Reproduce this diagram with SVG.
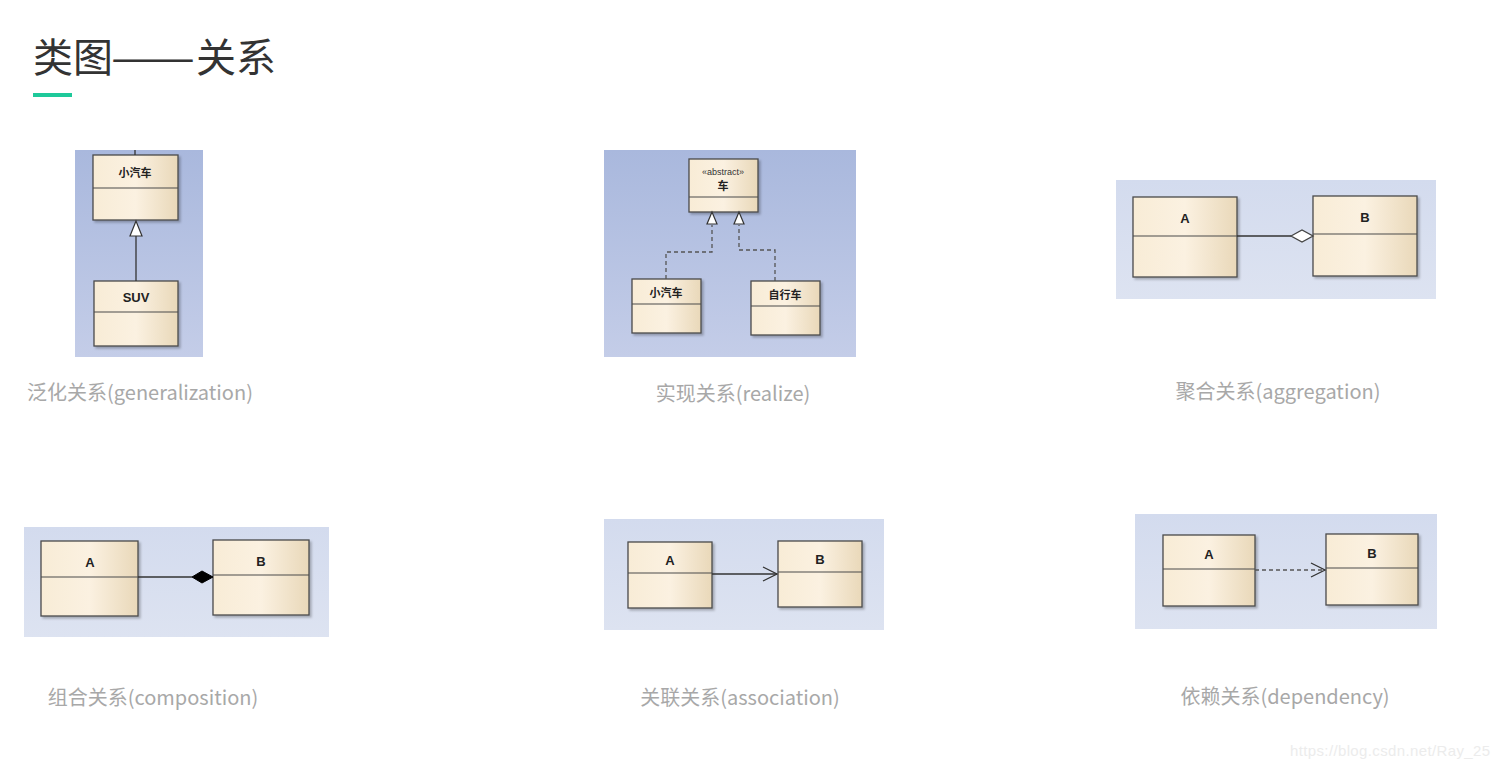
<svg xmlns="http://www.w3.org/2000/svg" width="1500" height="769" viewBox="0 0 1500 769">
<style>
.title{font-family:"Noto Sans CJK SC","Noto Sans",sans-serif;font-size:40px;fill:#333}
.cap{font-family:"Noto Sans CJK SC","Noto Sans",sans-serif;font-size:20px;fill:#a8a8a8;text-anchor:middle}
.box{fill:url(#boxg);stroke:#4a4a4a;stroke-width:1.3;filter:url(#sh)}
.div{stroke:#4a4a4a;stroke-width:1.2}
.lbl{font-family:"Liberation Sans","Noto Sans CJK SC",sans-serif;font-weight:bold;font-size:13px;fill:#222;text-anchor:middle}
.lblc{font-family:"Noto Sans CJK SC",sans-serif;font-weight:bold;font-size:11px;fill:#222;text-anchor:middle}
.ln{stroke:#333;stroke-width:1.3;fill:none}
.dash{stroke:#555;stroke-width:1.3;fill:none;stroke-dasharray:4 3}
.wm{font-family:"Liberation Sans",sans-serif;font-size:15px;fill:#ececec}
</style>
<defs>
<linearGradient id="boxg" x1="0" y1="0" x2="1" y2="0">
<stop offset="0" stop-color="#f8ecd6"/>
<stop offset="0.5" stop-color="#fbf1e1"/>
<stop offset="1" stop-color="#e9d8b9"/>
</linearGradient>
<linearGradient id="bg1" x1="0" y1="0" x2="0" y2="1">
<stop offset="0" stop-color="#a9b8dd"/>
<stop offset="1" stop-color="#c4cde8"/>
</linearGradient>
<linearGradient id="bg2" x1="0" y1="0" x2="0" y2="1">
<stop offset="0" stop-color="#d3dbee"/>
<stop offset="1" stop-color="#dde3f1"/>
</linearGradient>
<filter id="sh" x="-10%" y="-10%" width="130%" height="130%">
<feDropShadow dx="2" dy="2" stdDeviation="1" flood-color="#000" flood-opacity="0.25"/>
</filter>
</defs>

<g id="header">
<text class="title" y="72"><tspan x="33">类图</tspan><tspan x="111" textLength="84" lengthAdjust="spacingAndGlyphs">——</tspan><tspan x="196">关系</tspan></text>
<rect x="33" y="93" width="39" height="4" fill="#1ec99a"/>
</g>

<!-- panel backgrounds -->
<g id="panels">
<rect x="75" y="150" width="128" height="207" fill="url(#bg1)"/>
<rect x="604" y="150" width="252" height="207" fill="url(#bg1)"/>
<rect x="1116" y="180" width="320" height="119" fill="url(#bg2)"/>
<rect x="24" y="527" width="305" height="110" fill="url(#bg2)"/>
<rect x="604" y="519" width="280" height="111" fill="url(#bg2)"/>
<rect x="1135" y="514" width="302" height="115" fill="url(#bg2)"/>
</g>

<!-- nodes -->
<g id="gen-car">
<rect class="box" x="93" y="155" width="85" height="65"/>
<line class="div" x1="93" y1="188" x2="178" y2="188"/>
<text class="lblc" x="135" y="177">小汽车</text>
</g>
<g id="gen-suv">
<rect class="box" x="94" y="281" width="84" height="65"/>
<line class="div" x1="94" y1="312" x2="178" y2="312"/>
<text class="lbl" x="136" y="302" font-size="12">SUV</text>
</g>

<g id="real-abstract">
<rect class="box" x="689" y="159" width="69" height="53"/>
<line class="div" x1="689" y1="197" x2="758" y2="197"/>
<text x="723" y="175" text-anchor="middle" font-family="Liberation Sans,sans-serif" font-size="9" fill="#333">«abstract»</text>
<text class="lblc" x="723" y="190" font-size="10">车</text>
</g>
<g id="real-car">
<rect class="box" x="632" y="279" width="69" height="54"/>
<line class="div" x1="632" y1="304" x2="701" y2="304"/>
<text class="lblc" x="666" y="297" font-size="10">小汽车</text>
</g>
<g id="real-bike">
<rect class="box" x="751" y="281" width="69" height="54"/>
<line class="div" x1="751" y1="306" x2="820" y2="306"/>
<text class="lblc" x="785" y="299" font-size="10">自行车</text>
</g>

<g id="agg-A">
<rect class="box" x="1133" y="197" width="104" height="80"/>
<line class="div" x1="1133" y1="236" x2="1237" y2="236"/>
<text class="lbl" x="1185" y="223" font-size="14">A</text>
</g>
<g id="agg-B">
<rect class="box" x="1313" y="196" width="104" height="80"/>
<line class="div" x1="1313" y1="234" x2="1417" y2="234"/>
<text class="lbl" x="1365" y="222" font-size="14">B</text>
</g>

<g id="comp-A">
<rect class="box" x="41" y="541" width="97" height="75"/>
<line class="div" x1="41" y1="577" x2="138" y2="577"/>
<text class="lbl" x="90" y="567">A</text>
</g>
<g id="comp-B">
<rect class="box" x="213" y="540" width="96" height="75"/>
<line class="div" x1="213" y1="575" x2="309" y2="575"/>
<text class="lbl" x="261" y="566">B</text>
</g>

<g id="assoc-A">
<rect class="box" x="628" y="542" width="84" height="66"/>
<line class="div" x1="628" y1="573" x2="712" y2="573"/>
<text class="lbl" x="670" y="565" font-size="12">A</text>
</g>
<g id="assoc-B">
<rect class="box" x="778" y="541" width="84" height="66"/>
<line class="div" x1="778" y1="572" x2="862" y2="572"/>
<text class="lbl" x="820" y="564" font-size="12">B</text>
</g>

<g id="dep-A">
<rect class="box" x="1163" y="535" width="92" height="71"/>
<line class="div" x1="1163" y1="569" x2="1255" y2="569"/>
<text class="lbl" x="1209" y="559" font-size="12">A</text>
</g>
<g id="dep-B">
<rect class="box" x="1326" y="534" width="92" height="71"/>
<line class="div" x1="1326" y1="568" x2="1418" y2="568"/>
<text class="lbl" x="1372" y="558" font-size="12">B</text>
</g>

<!-- connectors -->
<g id="connectors">
<line class="ln" x1="135" y1="150" x2="135" y2="155"/>
<line class="ln" x1="136" y1="281" x2="136" y2="236"/>
<polygon points="136,221 130,236 142,236" fill="#fff" stroke="#333" stroke-width="1.2"/>

<polyline class="dash" points="666,279 666,252 712,252 712,225"/>
<polygon points="712,212 707,224 717,224" fill="#fff" stroke="#333" stroke-width="1.2"/>
<polyline class="dash" points="775,281 775,250 739,250 739,225"/>
<polygon points="739,212 734,224 744,224" fill="#fff" stroke="#333" stroke-width="1.2"/>

<line class="ln" x1="1237" y1="236" x2="1291" y2="236"/>
<polygon points="1291,236 1302,230 1313,236 1302,242" fill="#fff" stroke="#444" stroke-width="1.3"/>

<line class="ln" x1="138" y1="577" x2="192" y2="577"/>
<polygon points="192,577 202,571 213,577 202,583" fill="#000" stroke="#000" stroke-width="1"/>

<line class="ln" x1="712" y1="574" x2="777" y2="574"/>
<polyline class="ln" points="763,567 777,574 763,581"/>

<line class="dash" x1="1255" y1="570" x2="1325" y2="570"/>
<polyline class="ln" points="1311,563 1325,570 1311,577"/>
</g>

<g id="captions">
<text class="cap" x="140" y="400">泛化关系(generalization)</text>
<text class="cap" x="733" y="401">实现关系(realize)</text>
<text class="cap" x="1278" y="399">聚合关系(aggregation)</text>
<text class="cap" x="153" y="705">组合关系(composition)</text>
<text class="cap" x="740" y="705">关联关系(association)</text>
<text class="cap" x="1285" y="704">依赖关系(dependency)</text>
</g>

<text class="wm" x="1290" y="756" textLength="200">https://blog.csdn.net/Ray_25</text>
</svg>
